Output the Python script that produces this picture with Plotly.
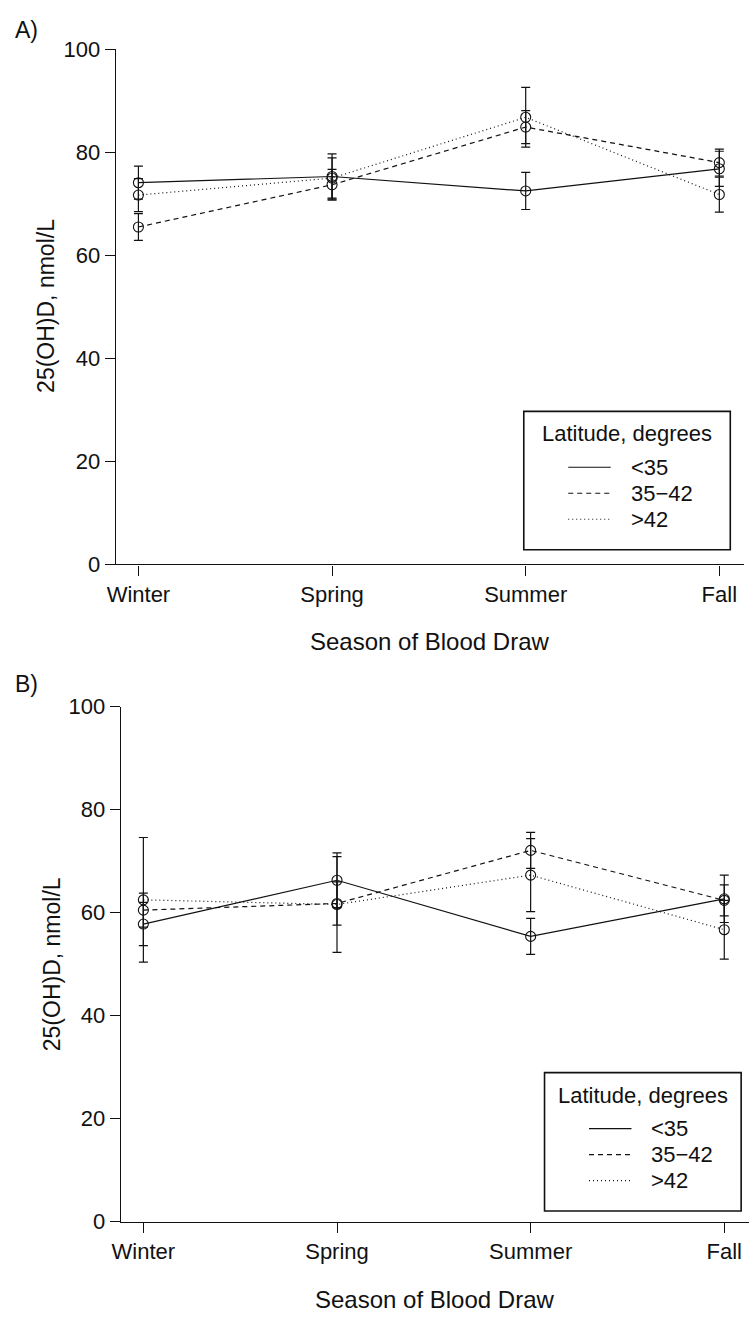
import plotly.graph_objects as go

# ---------------- data ----------------
seasons = ["Winter", "Spring", "Summer", "Fall"]
groups = ["<35", "35−42", ">42"]

# Panel A: mean 25(OH)D and error half-widths
A_lt35 = [74.1, 75.3, 72.5, 76.8]
A_mid = [65.5, 73.7, 84.9, 78.0]
A_gt42 = [71.7, 75.0, 86.8, 71.8]
A_lt35_err = [3.2, 4.4, 3.6, 3.4]
A_mid_err = [2.6, 3.0, 3.2, 2.6]
A_gt42_err = [3.2, 3.9, 5.8, 3.4]

# Panel B
B_lt35 = [57.8, 66.3, 55.4, 62.7]
B_mid = [60.5, 61.8, 72.1, 62.4]
B_gt42 = [62.5, 61.6, 67.3, 56.7]
B_lt35_err = [4.2, 5.3, 3.5, 4.6]
B_mid_err = [3.3, 4.2, 3.5, 3.0]
B_gt42_err = [12.1, 9.3, 7.1, 5.7]

y_ticks = [0, 20, 40, 60, 80, 100]
panel_labels = ["A)", "B)"]
x_title = "Season of Blood Draw"
y_title = "25(OH)D, nmol/L"
legend_title = "Latitude, degrees"

# ---------------- styling ----------------
W, H = 754, 1328
FONT = "Liberation Sans, Arial, Helvetica, sans-serif"
INK = "#111111"
dashes = ["solid", "5px,4px", "1px,3px"]


def px_x(p):
    return p / W


def px_y(p):
    return (H - p) / H


fig = go.Figure()

panels = [
    ("x", "y", [A_lt35, A_mid, A_gt42], [A_lt35_err, A_mid_err, A_gt42_err]),
    ("x2", "y2", [B_lt35, B_mid, B_gt42], [B_lt35_err, B_mid_err, B_gt42_err]),
]

for xa, ya, series, errs in panels:
    for g, vals, err, dash in zip(groups, series, errs, dashes):
        fig.add_trace(go.Scatter(
            x=seasons, y=vals, xaxis=xa, yaxis=ya,
            mode="lines+markers",
            line=dict(color=INK, width=1.2, dash=dash),
            marker=dict(symbol="circle-open", size=10, color=INK, line=dict(width=1.1)),
            error_y=dict(type="data", array=err, visible=True, color=INK,
                         thickness=1.2, width=4.5),
            showlegend=False, name=g,
        ))

axis_common = dict(
    showline=True, linecolor=INK, linewidth=1.2,
    ticks="outside", ticklen=10, tickwidth=1.2, tickcolor=INK,
    showgrid=False, zeroline=False,
    tickfont=dict(family=FONT, size=22, color=INK),
)

xr = [-0.1173, 3.128]
fig.update_layout(
    width=W, height=H,
    margin=dict(l=0, r=0, t=0, b=0),
    paper_bgcolor="white", plot_bgcolor="white",
    font=dict(family=FONT, size=22, color=INK),
    showlegend=False,
    xaxis=dict(domain=[px_x(108), px_x(744)], range=xr, anchor="y", **axis_common),
    yaxis=dict(domain=[px_y(563), px_y(38)], range=[0, 100], tickvals=y_ticks,
               anchor="x", **axis_common),
    xaxis2=dict(domain=[px_x(113), px_x(749)], range=xr, anchor="y2", **axis_common),
    yaxis2=dict(domain=[px_y(1233), px_y(708)], range=[0, 100], tickvals=y_ticks,
                anchor="x2", **axis_common),
)

ann = []
shapes = []
# panel labels
for lab, ypx in zip(panel_labels, [18, 685]):
    ann.append(dict(text=lab, x=px_x(4), y=px_y(ypx), xref="paper", yref="paper",
                    xanchor="left", yanchor="middle", showarrow=False,
                    font=dict(size=23, family=FONT, color=INK)))
# axis titles
for xc, yc in [(426, 642), (431, 1312)]:
    ann.append(dict(text=x_title, x=px_x(xc), y=px_y(yc), xref="paper", yref="paper",
                    xanchor="center", yanchor="middle", showarrow=False,
                    font=dict(size=24, family=FONT, color=INK)))
for xc, yc in [(38, 300), (43, 970)]:
    ann.append(dict(text=y_title, x=px_x(xc), y=px_y(yc), xref="paper", yref="paper",
                    xanchor="center", yanchor="middle", showarrow=False, textangle=-90,
                    font=dict(size=23, family=FONT, color=INK)))

# legends (boxed, as in the original figure)
legend_boxes = [(521, 730, 407), (542, 741, 1081)]  # left, right, top in px
for left, right, top in legend_boxes:
    shapes.append(dict(type="rect", xref="paper", yref="paper",
                       x0=px_x(left), x1=px_x(right), y0=px_y(top), y1=px_y(top + 141),
                       line=dict(color=INK, width=1.6), fillcolor="white", layer="above"))
    ann.append(dict(text=legend_title, x=px_x((left + right) / 2), y=px_y(top + 23),
                    xref="paper", yref="paper", xanchor="center", yanchor="middle",
                    showarrow=False, font=dict(size=22, family=FONT, color=INK)))
    for i, (g, dash) in enumerate(zip(groups, dashes)):
        yy = top + 57 + 26.5 * i
        shapes.append(dict(type="line", xref="paper", yref="paper",
                           x0=px_x(left + 45), x1=px_x(left + 88),
                           y0=px_y(yy), y1=px_y(yy),
                           line=dict(color=INK, width=1.2, dash=dash), layer="above"))
        ann.append(dict(text=g, x=px_x(left + 106), y=px_y(yy), xref="paper", yref="paper",
                        xanchor="left", yanchor="middle", showarrow=False,
                        font=dict(size=22, family=FONT, color=INK)))

fig.update_layout(annotations=ann, shapes=shapes)

fig.write_html(
    "out.html",
    config={"displayModeBar": False},
    post_script="document.body.style.margin='0';document.body.style.overflow='hidden';",
)
